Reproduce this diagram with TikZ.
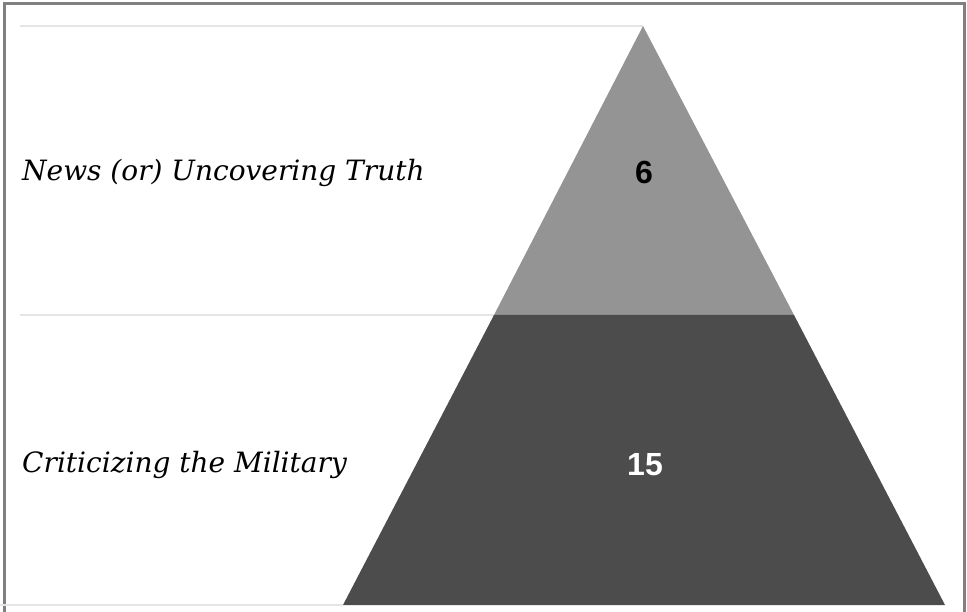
\documentclass[tikz,border=0pt]{standalone}
\usepackage{fontspec}
\setmainfont{DejaVu Serif}
\newfontfamily\numfont{Liberation Sans}
\tikzset{
  tier/.style={draw=none},
  guide/.style={draw=black!10,line width=1.2pt},
  tierlabel/.style={anchor=base west,font=\fontsize{28}{32}\selectfont\itshape,inner sep=0pt},
  tiervalue/.style={font=\fontsize{32}{36}\selectfont\numfont\bfseries,inner sep=0pt}
}
\begin{document}
\begin{tikzpicture}[x=1pt,y=-1pt]
  \useasboundingbox (0,0) rectangle (967,612);
  % outer frame (open at the bottom)
  \draw[black!50,line width=2.5pt] (4.5,612) -- (4.5,3.5) -- (964.5,3.5) -- (964.5,612);
  % pyramid corners
  \coordinate (apex) at (643,26);
  \coordinate (midL) at (494,315);
  \coordinate (midR) at (794,315);
  \coordinate (baseL) at (343,605);
  \coordinate (baseR) at (945,605);
  % guide lines
  \draw[guide] (20,26) -- (apex);
  \draw[guide] (20,315) -- (midL);
  \draw[guide] (0,605) -- (baseL);
  % the two tiers
  \fill[tier,fill=black!42] (apex) -- (midR) -- (midL) -- cycle;
  \fill[tier,fill=black!70] (midL) -- (midR) -- (baseR) -- (baseL) -- cycle;
  % labels and values
  \node[tierlabel] (top) at (22,181) {News (or) Uncovering Truth};
  \node[tierlabel] (bottom) at (22,472) {Criticizing the Military};
  \node[tiervalue,text=black] (topval) at (644,172) {6};
  \node[tiervalue,text=white] (bottomval) at (645,465) {15};
\end{tikzpicture}
\end{document}
